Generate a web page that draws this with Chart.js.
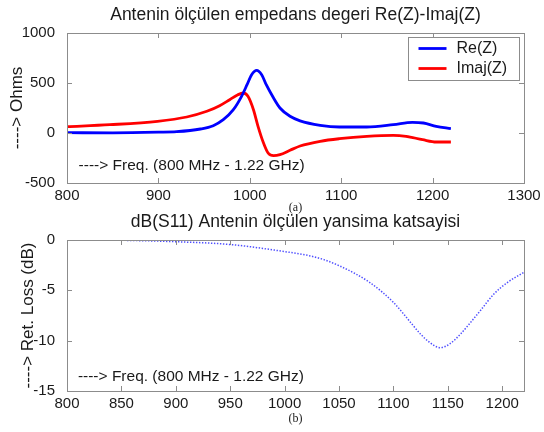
<!DOCTYPE html>
<html>
<head>
<meta charset="utf-8">
<script src="https://cdn.jsdelivr.net/npm/chart.js@4.4.0/dist/chart.umd.min.js"></script>
<style>
  body { margin: 0; background: #fff; }
  #wrap { position: relative; width: 544px; height: 432px; }
  canvas { position: absolute; left: 0; }
</style>
</head>
<body>
<div id="wrap">
  <canvas id="impChart" width="544" height="216" style="top:0"></canvas>
  <canvas id="s11Chart" width="544" height="225" style="top:207px"></canvas>
</div>
<script>
// (a) measured impedance, MHz -> Ohms
const reFreq = [800, 850, 900, 920, 946, 960, 971, 982, 991, 997, 1002, 1007.5, 1013, 1018, 1026, 1033, 1044, 1055, 1077, 1098, 1128, 1157, 1178, 1190, 1204, 1220];
const reZ    = [3, 2, 8, 13, 40, 73, 133, 233, 367, 483, 583, 627, 583, 483, 350, 250, 167, 122, 77, 60, 60, 83, 107, 100, 67, 43];
const imFreq = [800, 847, 899, 931, 953, 967, 978, 987, 993, 998, 1004, 1009, 1015, 1020, 1026, 1033, 1044, 1055, 1077, 1098, 1128, 1157, 1171, 1189, 1204, 1220];
const imZ    = [63, 83, 117, 160, 217, 273, 333, 383, 400, 367, 233, 67, -100, -200, -227, -217, -173, -130, -83, -57, -33, -23, -33, -67, -90, -90];
const impXTicks = [800, 900, 1000, 1100, 1200, 1300];
const impYTicks = [-500, 0, 500, 1000];

// (b) return loss, MHz -> dB
const s11Freq = [800, 850, 900, 950, 1000, 1020, 1036, 1050, 1065, 1078, 1090, 1100, 1109, 1117, 1125, 1133, 1143, 1152, 1162, 1170, 1180, 1192, 1205, 1220];
const s11dB   = [0, -0.03, -0.17, -0.45, -1.15, -1.5, -1.95, -2.55, -3.35, -4.2, -5.2, -6.2, -7.3, -8.35, -9.35, -10.15, -10.7, -10.3, -9.3, -8.3, -7.0, -5.4, -4.2, -3.2];
const s11XTicks = [800, 850, 900, 950, 1000, 1050, 1100, 1150, 1200];
const s11YTicks = [-15, -10, -5, 0];

const FONT = '"Liberation Sans", Arial, sans-serif';
const INK = '#1a1a1a';
const BOX = '#8c8c8c';

function toPoints(xs, ys) {
    return xs.map((x, i) => ({ x: x, y: ys[i] }));
}

// matlab look: boxed axes with inward ticks, inset legend, free text in the plot
const matlabAxes = {
    id: 'matlabAxes',
    afterDatasetsDraw(chart, args, opts) {
        const ctx = chart.ctx;
        const a = chart.chartArea;
        const xs = chart.scales.x, ys = chart.scales.y;
        ctx.save();
        ctx.strokeStyle = BOX;
        ctx.lineWidth = 1;
        ctx.beginPath();
        xs.ticks.forEach(t => {
            const px = Math.round(xs.getPixelForValue(t.value)) + 0.5;
            ctx.moveTo(px, a.bottom); ctx.lineTo(px, a.bottom - 5);
            ctx.moveTo(px, a.top); ctx.lineTo(px, a.top + 5);
        });
        ys.ticks.forEach(t => {
            const py = Math.round(ys.getPixelForValue(t.value)) + 0.5;
            ctx.moveTo(a.left, py); ctx.lineTo(a.left + 5, py);
            ctx.moveTo(a.right, py); ctx.lineTo(a.right - 5, py);
        });
        ctx.stroke();
        ctx.strokeRect(Math.round(a.left) + 0.5, Math.round(a.top) + 0.5,
                       Math.round(a.right - a.left), Math.round(a.bottom - a.top));

        if (opts.note) {
            ctx.fillStyle = INK;
            ctx.font = '15.5px ' + FONT;
            ctx.textAlign = 'left';
            ctx.textBaseline = 'middle';
            ctx.fillText(opts.note.text, xs.getPixelForValue(opts.note.x), ys.getPixelForValue(opts.note.y));
        }

        if (opts.legend) {
            const w = 111, h = 43;
            const bx = Math.round(a.right - 5 - w) + 0.5, by = Math.round(a.top + 4) + 0.5;
            ctx.fillStyle = '#fff';
            ctx.fillRect(bx, by, w, h);
            ctx.strokeStyle = BOX;
            ctx.lineWidth = 1;
            ctx.strokeRect(bx, by, w, h);
            ctx.font = '16px ' + FONT;
            ctx.textAlign = 'left';
            ctx.textBaseline = 'middle';
            chart.data.datasets.forEach((ds, i) => {
                const y = by + 11 + i * 20;
                ctx.strokeStyle = ds.borderColor;
                ctx.lineWidth = ds.borderWidth;
                ctx.beginPath();
                ctx.moveTo(bx + 10, y);
                ctx.lineTo(bx + 38, y);
                ctx.stroke();
                ctx.fillStyle = INK;
                ctx.fillText(ds.label, bx + 48, y);
            });
        }
        ctx.restore();
    }
};

function axisX(min, max, ticks, caption, capPad, height) {
    return {
        type: 'linear', min: min, max: max,
        grid: { display: false }, border: { display: false },
        afterBuildTicks: s => { s.ticks = ticks.map(v => ({ value: v })); },
        afterFit: s => { s.height = height; },
        ticks: { font: { family: FONT, size: 15 }, color: INK, padding: -4, maxRotation: 0, autoSkip: false,
                 callback: v => String(v) },
        title: { display: true, text: caption, color: INK,
                 font: { family: '"Liberation Serif", "Times New Roman", serif', size: 12 },
                 padding: { top: 0, bottom: capPad } }
    };
}

function axisY(min, max, ticks, caption, capPad) {
    return {
        min: min, max: max,
        grid: { display: false }, border: { display: false },
        afterBuildTicks: s => { s.ticks = ticks.map(v => ({ value: v })); },
        afterFit: s => { s.width = 67; },
        ticks: { font: { family: FONT, size: 15 }, color: INK, padding: 4, autoSkip: false,
                 callback: v => String(v) },
        title: { display: true, text: caption, color: INK,
                 font: { family: FONT, size: 17 },
                 padding: { top: capPad, bottom: 0 } }
    };
}

function titleOpts(text) {
    return {
        display: true, text: text, fullSize: false, color: INK,
        font: { family: FONT, size: 17.5, weight: 'normal' },
        padding: { top: 5, bottom: 7 }
    };
}

Chart.defaults.animation = false;

new Chart(document.getElementById('impChart'), {
    type: 'line',
    data: {
        datasets: [
            { label: 'Re(Z)', data: toPoints(reFreq, reZ), borderColor: '#0000ff', borderWidth: 2.8,
              pointRadius: 0, cubicInterpolationMode: 'monotone' },
            { label: 'Imaj(Z)', data: toPoints(imFreq, imZ), borderColor: '#ff0000', borderWidth: 2.8,
              pointRadius: 0, cubicInterpolationMode: 'monotone' }
        ]
    },
    options: {
        responsive: false,
        devicePixelRatio: 1,
        layout: { padding: { left: 0, right: 20, top: 0, bottom: 0 } },
        scales: {
            x: axisX(800, 1300, impXTicks, '(a)', 1, 33),
            y: axisY(-500, 1000, impYTicks, '----> Ohms', 7)
        },
        plugins: {
            legend: { display: false },
            tooltip: { enabled: false },
            title: titleOpts('Antenin ölçülen empedans degeri Re(Z)-Imaj(Z)'),
            matlabAxes: { legend: true, note: { x: 812.7, y: -332, text: '----> Freq. (800 MHz - 1.22 GHz)' } }
        }
    },
    plugins: [matlabAxes]
});

new Chart(document.getElementById('s11Chart'), {
    type: 'line',
    data: {
        datasets: [
            { label: 'dB(S11)', data: toPoints(s11Freq, s11dB), borderColor: 'rgba(20,20,255,0.75)',
              borderWidth: 1.5, borderDash: [1.4, 1.6], pointRadius: 0, cubicInterpolationMode: 'monotone' }
        ]
    },
    options: {
        responsive: false,
        devicePixelRatio: 1,
        layout: { padding: { left: 0, right: 20, top: 0, bottom: 0 } },
        scales: {
            x: axisX(800, 1220, s11XTicks, '(b)', 6, 41),
            y: axisY(-15, 0, s11YTicks, '----> Ret. Loss (dB)', 18)
        },
        plugins: {
            legend: { display: false },
            tooltip: { enabled: false },
            title: titleOpts('dB(S11) Antenin ölçülen yansima katsayisi'),
            matlabAxes: { note: { x: 810, y: -13.6, text: '----> Freq. (800 MHz - 1.22 GHz)' } }
        }
    },
    plugins: [matlabAxes]
});
</script>
</body>
</html>
